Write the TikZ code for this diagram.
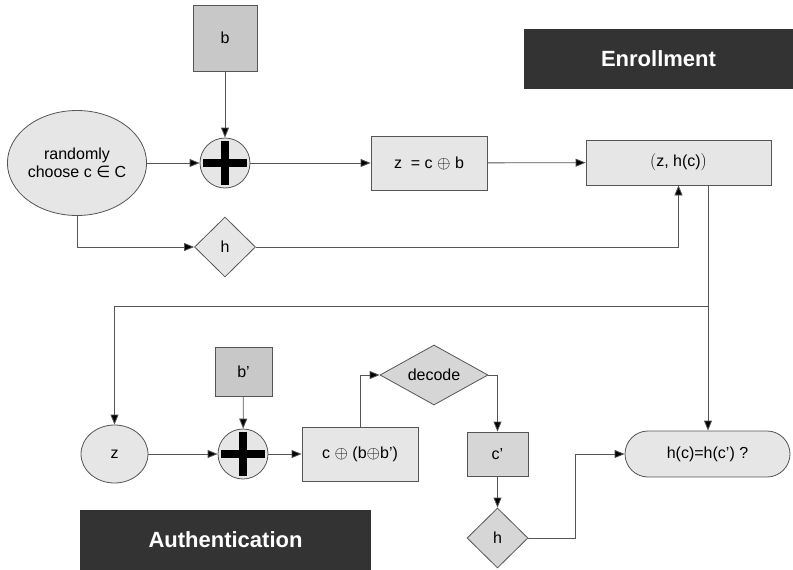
\documentclass[tikz,border=0pt]{standalone}
\usepackage{fontspec}
\setmainfont{Liberation Sans}
\newfontfamily\symfont{DejaVu Sans}
\usetikzlibrary{arrows.meta,shapes.geometric}

\definecolor{edge}{HTML}{555555}
\definecolor{lightfill}{HTML}{E6E6E6}
\definecolor{midfill}{HTML}{D6D6D6}
\definecolor{darkfill}{HTML}{C8C8C8}
\definecolor{banner}{HTML}{333333}

\tikzset{
  base/.style={draw=edge, line width=0.8pt, inner sep=0pt, font=\fontsize{16}{18}\selectfont},
  box/.style={base, rectangle, fill=lightfill},
  inbox/.style={base, rectangle, fill=darkfill},
  oval/.style={base, ellipse, fill=lightfill, align=center},
  hashbox/.style={base, diamond, fill=lightfill},
  pill/.style={base, rectangle, rounded corners=23pt, fill=lightfill},
  xorop/.style={base, circle, fill=lightfill, minimum size=50pt,
    path picture={
      \fill[black] ([xshift=-22pt,yshift=-4pt]path picture bounding box.center)
        rectangle ([xshift=22pt,yshift=4pt]path picture bounding box.center);
      \fill[black] ([xshift=-4pt,yshift=-22pt]path picture bounding box.center)
        rectangle ([xshift=4pt,yshift=22pt]path picture bounding box.center);
    }},
  titlebox/.style={rectangle, fill=banner, text=white, inner sep=0pt,
    font=\fontsize{22}{24}\selectfont\bfseries},
  wire/.style={draw=edge, line width=0.8pt},
  flow/.style={wire, -{Triangle[length=10pt,width=8pt,fill=black]}},
}

\begin{document}
\begin{tikzpicture}[x=1pt, y=-1pt]
  \useasboundingbox (0,0) rectangle (793,570);

  % ---- enrollment ----
  \node[titlebox, minimum width=269pt, minimum height=60pt] (enroll) at (658.5,59) {Enrollment};
  \node[inbox, minimum width=64pt, minimum height=66pt] (b) at (225,38) {b};
  \node[oval, minimum width=129pt, minimum height=105pt] (choose) at (77,163)
    {randomly\\choose c {\symfont ∈} C};
  \node[xorop] (xa) at (225,163) {};
  \node[box, minimum width=116pt, minimum height=54pt] (zb) at (429,163) {z \;= c $\oplus$ b};
  \node[box, minimum width=185pt, minimum height=45pt] (zh) at (678.5,162.5) {$\bigl($z, h(c)$\bigr)$};
  \node[hashbox, minimum width=61pt, minimum height=60pt] (ha) at (225,247) {h};

  \draw[flow] (b) -- (xa);
  \draw[flow] (choose) -- (xa);
  \draw[flow] (xa) -- (zb);
  \draw[flow] (zb) -- (zh);
  \draw[flow] (choose.south) |- (ha.west);
  \draw[flow] (ha.east) -| (zh.south);

  % ---- authentication ----
  \node[titlebox, minimum width=291pt, minimum height=60pt] (auth) at (225.5,540) {Authentication};
  \node[oval, minimum width=67pt, minimum height=58pt] (z) at (114.5,454) {z};
  \node[inbox, minimum width=57pt, minimum height=49pt] (bp) at (243.5,371.5) {b'};
  \node[xorop] (xb) at (243,454) {};
  \node[box, minimum width=116pt, minimum height=54pt] (cb) at (360,454) {c $\oplus$ (b$\oplus$b')};
  \node[hashbox, fill=midfill, aspect=1.8, minimum width=108pt, minimum height=60pt] (dec) at (434,375) {decode};
  \node[box, fill=midfill, minimum width=61pt, minimum height=44pt] (cp) at (497.5,454) {c'};
  \node[hashbox, fill=midfill, minimum width=61pt, minimum height=60pt] (hb) at (497.5,538) {h};
  \node[pill, minimum width=165pt, minimum height=46pt] (cmp) at (707.5,454) {h(c)=h(c') ?};

  \coordinate (split) at (708,306);
  \draw[wire] (zh.south -| split) -- (split);
  \draw[flow] (split) -- (cmp.north -| split);
  \draw[flow] (split) -| (z.north);
  \draw[flow] (z) -- (xb);
  \draw[flow] (bp) -- (xb);
  \draw[flow] (xb) -- (cb);
  \draw[flow] (cb.north) |- (dec.west);
  \draw[flow] (dec.east) -| (cp.north);
  \draw[flow] (cp) -- (hb);
  \draw[flow] (hb.east) -- ++(47,0) |- (cmp.west);
\end{tikzpicture}
\end{document}
